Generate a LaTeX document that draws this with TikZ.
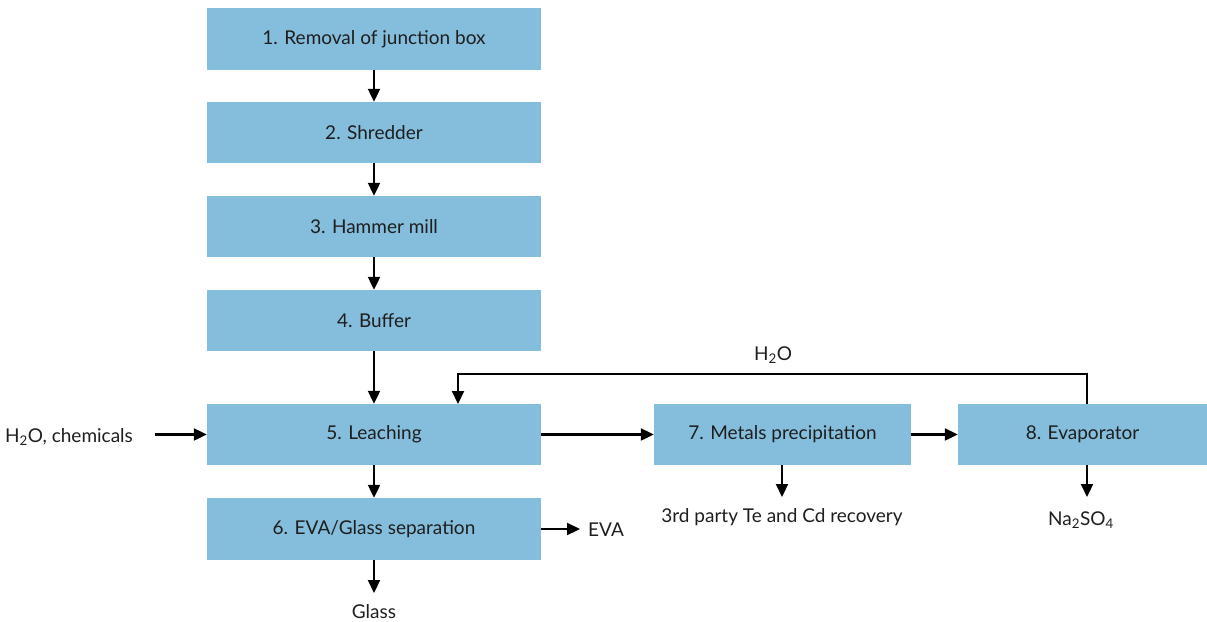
\documentclass[tikz,border=0pt]{standalone}
\usepackage{fontspec}
\setmainfont{Lato}
\usetikzlibrary{arrows.meta}
\definecolor{boxblue}{RGB}{133,190,220}
\definecolor{txt}{RGB}{30,30,30}
\tikzset{
  stepbox/.style={rectangle, fill=boxblue, draw=none, minimum height=61pt, inner sep=0pt, font=\fontsize{19}{21}\selectfont, text=txt},
  lbl/.style={inner sep=0pt, font=\fontsize{19}{21}\selectfont, text=txt},
  flow/.style={line width=2.2pt, -{Triangle[length=13pt,width=12pt]}},
}
\begin{document}
\begin{tikzpicture}[x=1pt,y=-1pt]
\useasboundingbox (0,0) rectangle (1207,621);
\node[stepbox, minimum width=334pt, minimum height=62pt] (b1) at (374,39) {1. Removal of junction box};
\node[stepbox, minimum width=334pt] (b2) at (374,132.5) {2. Shredder};
\node[stepbox, minimum width=334pt] (b3) at (374,226.5) {3. Hammer mill};
\node[stepbox, minimum width=334pt] (b4) at (374,320.5) {4. Buffer};
\node[stepbox, minimum width=334pt] (b5) at (374,434.5) {5. Leaching};
\node[stepbox, minimum width=334pt, minimum height=62pt] (b6) at (374,529) {6. EVA/Glass separation};
\node[stepbox, minimum width=257pt] (b7) at (782.5,434.5) {7. Metals precipitation};
\node[stepbox, minimum width=249pt] (b8) at (1082.5,434.5) {8. Evaporator};

\node[lbl, anchor=west] (in) at (5,437) {H\textsubscript{2}O, chemicals};
\node[lbl] (h2o) at (773,355) {H\textsubscript{2}O};
\node[lbl] (te) at (782,517) {3rd party Te and Cd recovery};
\node[lbl] (na) at (1081,520) {Na\textsubscript{2}SO\textsubscript{4}};
\node[lbl, anchor=west] (eva) at (588,530) {EVA};
\node[lbl] (glass) at (374,612) {Glass};

\coordinate (inS) at (155,434.5);
\coordinate (evaS) at (580,529);
\coordinate (teE) at (782,497);
\coordinate (naE) at (1087,497);
\coordinate (glE) at (374,593);
\coordinate (r8) at (1087,404);
\coordinate (r5) at (458,404);

\draw[flow] (b1) -- (b2);
\draw[flow] (b2) -- (b3);
\draw[flow] (b3) -- (b4);
\draw[flow] (b4) -- (b5);
\draw[flow] (b5) -- (b6);
\draw[flow] (b5) -- (b7);
\draw[flow] (b7) -- (b8);
\draw[flow] (inS) -- (b5.west);
\draw[flow] (b6.east) -- (evaS);
\draw[flow] (b6.south) -- (glE);
\draw[flow] (b7.south -| teE) -- (teE);
\draw[flow] (r8 |- b8.south) -- (naE);
\draw[flow] (r8) -- (1087,374) -- (458,374) -- (r5);
\end{tikzpicture}
\end{document}
